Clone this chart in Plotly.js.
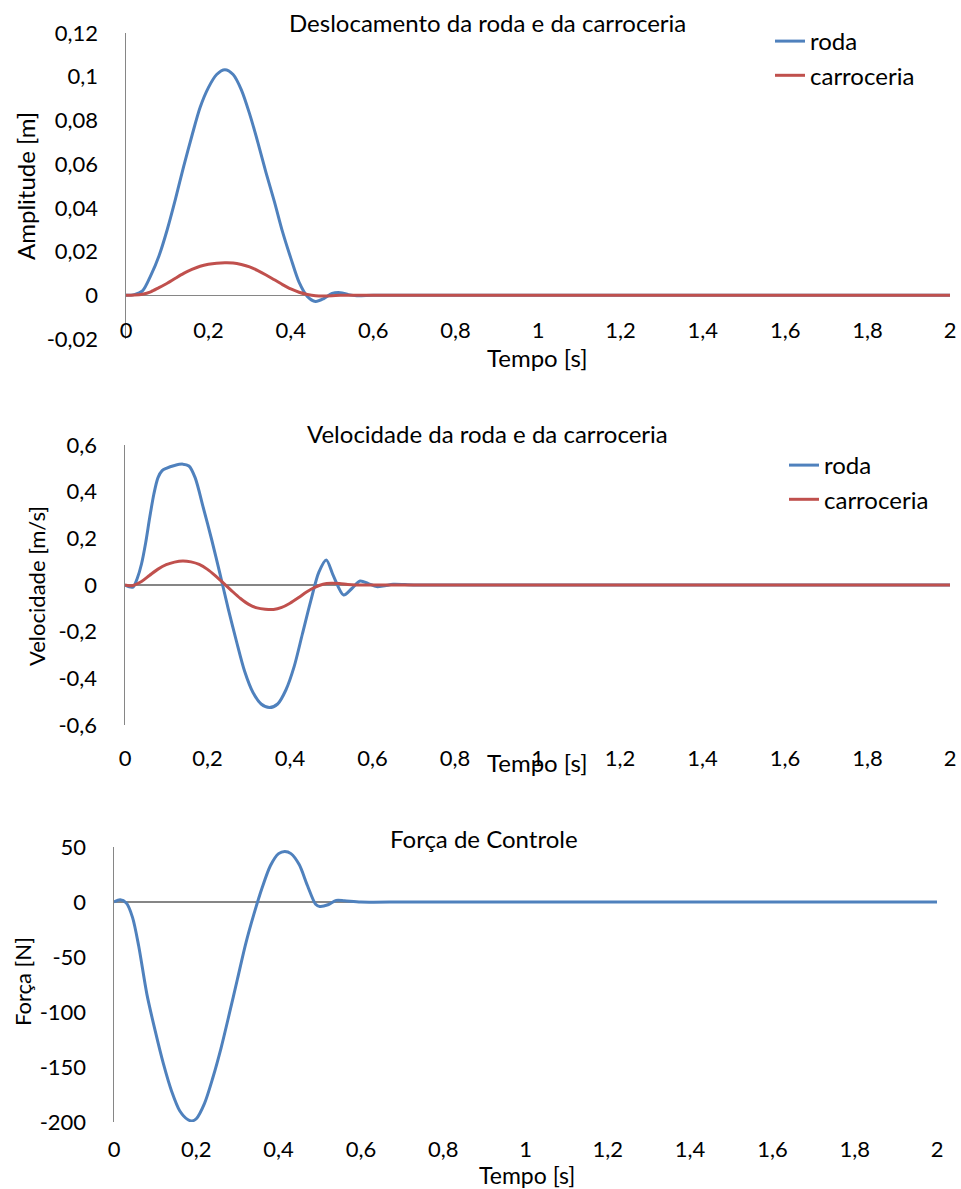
<!DOCTYPE html>
<html>
<head>
<meta charset="utf-8">
<script src="https://cdn.plot.ly/plotly-3.0.1.min.js"></script>
<style>html,body{margin:0;padding:0;background:#fff;}#chart{width:961px;height:1189px;}</style>
</head>
<body>
<div id="chart"></div>
<script>
// ---- Data ----
const tDesl = [0, 0.02, 0.04, 0.06, 0.08, 0.10, 0.12, 0.14, 0.16, 0.18, 0.20, 0.22, 0.24, 0.26, 0.28, 0.30, 0.32, 0.34, 0.36, 0.38, 0.40, 0.42, 0.44, 0.46, 0.48, 0.50, 0.52, 0.54, 0.56, 0.60, 0.70, 0.80, 1.0, 1.2, 1.4, 1.6, 1.8, 2.0];
const deslRoda = [0, 0.0003, 0.002, 0.009, 0.018, 0.030, 0.044, 0.059, 0.073, 0.086, 0.095, 0.101, 0.1032, 0.101, 0.094, 0.083, 0.070, 0.056, 0.043, 0.029, 0.017, 0.006, -0.0005, -0.0028, -0.0015, 0.0008, 0.0012, 0.0003, -0.0002, 0, 0, 0, 0, 0, 0, 0, 0, 0];
const deslCarroceria = [0, 0.0001, 0.0005, 0.0016, 0.0035, 0.0055, 0.0078, 0.0100, 0.0118, 0.0133, 0.0142, 0.0147, 0.0149, 0.0148, 0.0141, 0.0130, 0.0113, 0.0093, 0.0071, 0.0049, 0.0029, 0.0014, 0.0004, -0.0002, -0.0003, -0.0002, 0, 0, 0, 0, 0, 0, 0, 0, 0, 0, 0, 0];

const tVelRoda = [0, 0.01, 0.02, 0.03, 0.04, 0.05, 0.06, 0.07, 0.08, 0.09, 0.10, 0.12, 0.14, 0.155, 0.17, 0.19, 0.21, 0.23, 0.25, 0.27, 0.29, 0.31, 0.33, 0.35, 0.37, 0.39, 0.41, 0.43, 0.45, 0.47, 0.488, 0.505, 0.53, 0.55, 0.57, 0.59, 0.61, 0.63, 0.65, 0.70, 0.80, 1.0, 1.2, 1.4, 1.6, 1.8, 2.0];
const velRoda = [0, -0.008, -0.008, 0.03, 0.09, 0.18, 0.29, 0.39, 0.46, 0.49, 0.50, 0.512, 0.518, 0.51, 0.46, 0.33, 0.195, 0.05, -0.10, -0.24, -0.37, -0.46, -0.51, -0.525, -0.51, -0.45, -0.35, -0.21, -0.07, 0.055, 0.107, 0.04, -0.043, -0.015, 0.017, 0.006, -0.007, -0.003, 0.003, 0, 0, 0, 0, 0, 0, 0, 0];
const tVelCarroceria = [0, 0.01, 0.02, 0.04, 0.06, 0.08, 0.10, 0.12, 0.14, 0.16, 0.18, 0.20, 0.22, 0.24, 0.26, 0.28, 0.30, 0.32, 0.34, 0.36, 0.38, 0.40, 0.42, 0.44, 0.46, 0.48, 0.50, 0.52, 0.54, 0.56, 0.60, 0.70, 0.80, 1.0, 1.2, 1.4, 1.6, 1.8, 2.0];
const velCarroceria = [0, -0.003, -0.002, 0.015, 0.042, 0.068, 0.087, 0.098, 0.103, 0.099, 0.088, 0.067, 0.038, 0.006, -0.027, -0.058, -0.083, -0.098, -0.104, -0.105, -0.096, -0.078, -0.055, -0.030, -0.010, 0.003, 0.007, 0.006, 0.002, 0, 0, 0, 0, 0, 0, 0, 0, 0, 0];

const tForca = [0, 0.015, 0.03, 0.045, 0.06, 0.08, 0.10, 0.12, 0.14, 0.16, 0.18, 0.19, 0.20, 0.22, 0.24, 0.26, 0.28, 0.30, 0.32, 0.34, 0.36, 0.38, 0.40, 0.415, 0.43, 0.45, 0.47, 0.49, 0.50, 0.52, 0.54, 0.56, 0.60, 0.70, 0.80, 1.0, 1.2, 1.4, 1.6, 1.8, 2.0];
const forca = [0, 2, -1, -14, -40, -84, -117, -147, -172, -190, -198, -199, -197, -183, -160, -133, -102, -70, -38, -11, 13, 33, 44, 46, 44, 34, 15, -2, -4, -2.5, 1.5, 1.2, 0, 0, 0, 0, 0, 0, 0, 0, 0];

const xTickVals = [0, 0.2, 0.4, 0.6, 0.8, 1, 1.2, 1.4, 1.6, 1.8, 2];
const xTickText = ["0", "0,2", "0,4", "0,6", "0,8", "1", "1,2", "1,4", "1,6", "1,8", "2"];
const y1TickVals = [-0.02, 0, 0.02, 0.04, 0.06, 0.08, 0.1, 0.12];
const y1TickText = ["-0,02", "0", "0,02", "0,04", "0,06", "0,08", "0,1", "0,12"];
const y2TickVals = [-0.6, -0.4, -0.2, 0, 0.2, 0.4, 0.6];
const y2TickText = ["-0,6", "-0,4", "-0,2", "0", "0,2", "0,4", "0,6"];
const y3TickVals = [-200, -150, -100, -50, 0, 50];
const y3TickText = ["-200", "-150", "-100", "-50", "0", "50"];

const seriesNames = ["roda", "carroceria"];
const titles = ["Deslocamento da roda e da carroceria", "Velocidade da roda e da carroceria", "Força de Controle"];
const yTitles = ["Amplitude [m]", "Velocidade [m/s]", "Força [N]"];
const xTitle = "Tempo [s]";

// ---- Styling ----
const W = 961, H = 1189;
const BLUE = "#4F81BD", RED = "#C0504D", AX = "#868686";
const FONT = "Lato, 'Open Sans', sans-serif";
const FS = 22;
const px = v => v / W;
const py = v => 1 - v / H;

function lineTrace(x, y, name, color, xa, ya, legend, show) {
  return {x: x, y: y, name: name, type: "scatter", mode: "lines",
    line: {color: color, width: 3, shape: "spline", smoothing: 0.8},
    xaxis: xa, yaxis: ya, legend: legend, showlegend: show, hoverinfo: "skip"};
}

const data = [
  lineTrace(tDesl, deslRoda, seriesNames[0], BLUE, "x", "y", "legend", true),
  lineTrace(tDesl, deslCarroceria, seriesNames[1], RED, "x", "y", "legend", true),
  lineTrace(tVelRoda, velRoda, seriesNames[0], BLUE, "x2", "y2", "legend2", true),
  lineTrace(tVelCarroceria, velCarroceria, seriesNames[1], RED, "x2", "y2", "legend2", true),
  lineTrace(tForca, forca, "Força", BLUE, "x3", "y3", "legend", false)
];

function xAxis(d, pos) {
  return {domain: [px(d[0]), px(d[1])], range: [0, 2], anchor: "free", position: py(pos),
    showline: false, zeroline: false, showgrid: false, ticks: "",
    tickmode: "array", tickvals: xTickVals, ticktext: xTickText,
    tickfont: {family: FONT, size: FS, color: "#000"}, fixedrange: true};
}
function yAxis(xa, d, range, tv, tt) {
  return {domain: [py(d[1]), py(d[0])], range: range, anchor: xa,
    showline: true, linecolor: AX, linewidth: 1.5,
    zeroline: true, zerolinecolor: AX, zerolinewidth: 1.5, showgrid: false,
    ticks: "outside", ticklen: 22, tickcolor: "rgba(0,0,0,0)",
    tickmode: "array", tickvals: tv, ticktext: tt,
    tickfont: {family: FONT, size: FS, color: "#000"}, fixedrange: true};
}

function ann(text, x, y, size, angle) {
  return {text: text, x: px(x), y: py(y), xref: "paper", yref: "paper",
    xanchor: "center", yanchor: "middle", showarrow: false, textangle: angle || 0,
    font: {family: FONT, size: size, color: "#000"}};
}

const layout = {
  width: W, height: H,
  margin: {l: 0, r: 0, t: 0, b: 0},
  paper_bgcolor: "#fff", plot_bgcolor: "rgba(0,0,0,0)",
  showlegend: true,
  xaxis: xAxis([126, 950], 315),
  yaxis: yAxis("x", [33, 339], [-0.02, 0.12], y1TickVals, y1TickText),
  xaxis2: xAxis([125, 950], 743),
  yaxis2: yAxis("x2", [445, 725], [-0.6, 0.6], y2TickVals, y2TickText),
  xaxis3: xAxis([114, 937], 1134),
  yaxis3: yAxis("x3", [847, 1122], [-200, 50], y3TickVals, y3TickText),
  legend: {x: px(770), y: py(19), xanchor: "left", yanchor: "top", bgcolor: "rgba(0,0,0,0)",
    font: {family: FONT, size: 24, color: "#000"}, itemwidth: 30, tracegroupgap: 0},
  legend2: {x: px(784), y: py(443), xanchor: "left", yanchor: "top", bgcolor: "rgba(0,0,0,0)",
    font: {family: FONT, size: 24, color: "#000"}, itemwidth: 30, tracegroupgap: 0},
  annotations: [
    ann(titles[0], 488, 22, 24), ann(titles[1], 487, 433, 24), ann(titles[2], 484, 838, 24),
    ann(xTitle, 537, 357, 24), ann(xTitle, 537, 762, 24), ann(xTitle, 527, 1175, 23),
    ann(yTitles[0], 26, 186, 24, -90), ann(yTitles[1], 36, 586, 22, -90), ann(yTitles[2], 22, 982, 22, -90)
  ]
};

Plotly.newPlot("chart", data, layout, {displayModeBar: false, staticPlot: true});
</script>
</body>
</html>
